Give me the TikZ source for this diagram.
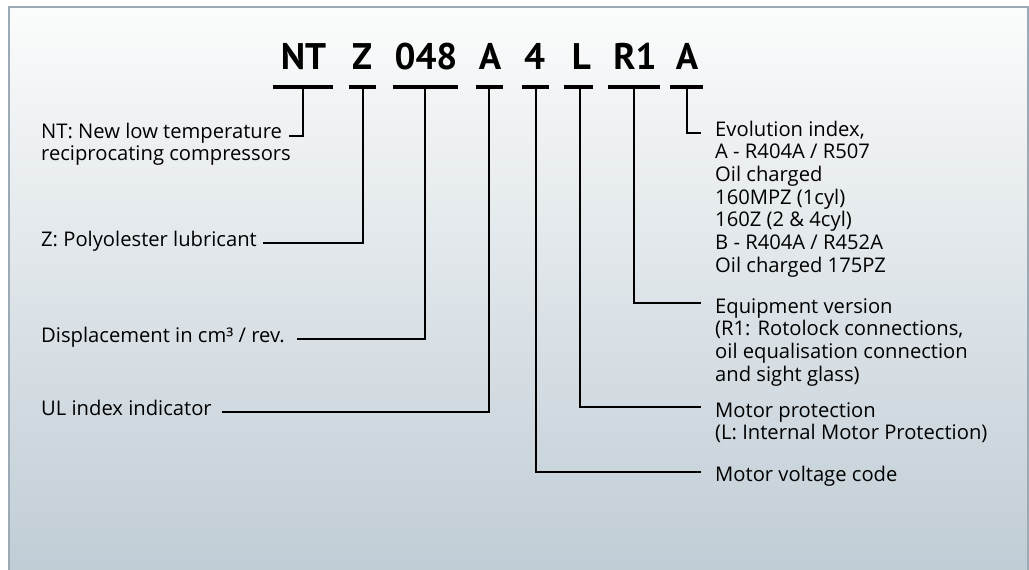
\documentclass[tikz,border=0pt]{standalone}
\usepackage{fontspec}
\setmainfont{Open Sans}
\newfontfamily\titlefont{PT Sans}
\definecolor{bgtop}{HTML}{FBFCFC}
\definecolor{bgbot}{HTML}{C0CCD5}
\definecolor{bord}{HTML}{9CAAB5}
\begin{document}
\begin{tikzpicture}[x=1pt,y=-1pt,
  code/.style={font=\titlefont\bfseries\fontsize{37}{37}\selectfont, anchor=base, inner sep=0pt},
  lbl/.style={font=\fontsize{20.2}{22.7}\selectfont, align=left, anchor=base west, inner sep=0pt},
  uline/.style={line width=3.2pt},
  conn/.style={line width=2.7pt}]
\useasboundingbox (0,0) rectangle (1029,570);
\fill[white] (0,0) rectangle (1029,570);
\shade[top color=bgtop, bottom color=bgbot] (9,7) rectangle (1028,575);
\draw[bord, line width=1.4pt] (9,575) -- (9,7) -- (1028,7) -- (1028,575);

% code letters
\node[code] (nt) at (303.5,69.5) {NT};
\node[code] (z) at (362,69.5) {Z};
\node[code] (disp) at (426,69.5) {048};
\node[code] (ul) at (490,69.5) {A};
\node[code] (volt) at (534.5,69.5) {4};
\node[code] (prot) at (581.5,69.5) {L};
\node[code] (equip) at (635,69.5) {R1};
\node[code] (evo) at (687,69.5) {A};

% underlines
\draw[uline] (273,87) -- (333,87);
\draw[uline] (349,87) -- (376,87);
\draw[uline] (393,87) -- (458,87);
\draw[uline] (476,87) -- (503,87);
\draw[uline] (522,87) -- (549,87);
\draw[uline] (564,87) -- (593,87);
\draw[uline] (608,87) -- (660,87);
\draw[uline] (670,87) -- (703,87);

% stem tops
\coordinate (sNT) at (303,87);
\coordinate (sZ) at (363,87);
\coordinate (sD) at (425,87);
\coordinate (sU) at (489,87);
\coordinate (sV) at (536,87);
\coordinate (sP) at (580,87);
\coordinate (sE) at (634,87);
\coordinate (sX) at (687,87);

% labels (anchor = baseline of last line)
\node[lbl] (lNT) at (41,160.7) {NT: New low temperature\\reciprocating compressors};
\node[lbl] (lZ) at (41,246) {Z: Polyolester lubricant};
\node[lbl] (lD) at (41,342) {Displacement in cm³ / rev.};
\node[lbl] (lU) at (41,415) {UL index indicator};
\node[lbl] (lX) at (715,272.2) {Evolution index,\\A - R404A / R507\\Oil charged\\160MPZ (1cyl)\\160Z (2 \& 4cyl)\\B - R404A / R452A\\Oil charged 175PZ};
\node[lbl] (lE) at (715,381.1) {Equipment version\\(R1: Rotolock connections,\\oil equalisation connection\\and sight glass)};
\node[lbl] (lP) at (715,439.7) {Motor protection\\(L: Internal Motor Protection)};
\node[lbl] (lV) at (715,481) {Motor voltage code};

% connector ends
\coordinate (eNT) at (289,136);
\coordinate (eZ) at (263,243);
\coordinate (eD) at (297,339);
\coordinate (eU) at (222,412);
\coordinate (eX) at (701,133);
\coordinate (eE) at (701,303);
\coordinate (eP) at (701,407);
\coordinate (eV) at (701,472);

\draw[conn] (sNT) |- (eNT);
\draw[conn] (sZ) |- (eZ);
\draw[conn] (sD) |- (eD);
\draw[conn] (sU) |- (eU);
\draw[conn] (sX) |- (eX);
\draw[conn] (sE) |- (eE);
\draw[conn] (sP) |- (eP);
\draw[conn] (sV) |- (eV);
\end{tikzpicture}
\end{document}
